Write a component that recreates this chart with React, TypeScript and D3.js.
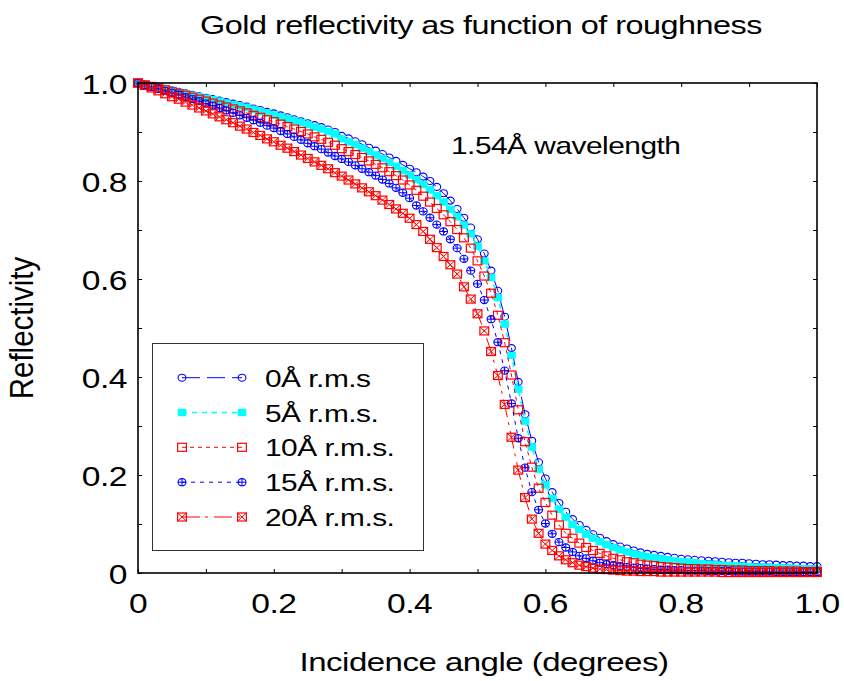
import React, { useEffect, useRef } from 'react';
import * as d3 from 'd3';

// Incidence angles (degrees)
const angles = [
  0.00, 0.01, 0.02, 0.03, 0.04, 0.05, 0.06, 0.07, 0.08, 0.09,
  0.10, 0.11, 0.12, 0.13, 0.14, 0.15, 0.16, 0.17, 0.18, 0.19,
  0.20, 0.21, 0.22, 0.23, 0.24, 0.25, 0.26, 0.27, 0.28, 0.29,
  0.30, 0.31, 0.32, 0.33, 0.34, 0.35, 0.36, 0.37, 0.38, 0.39,
  0.40, 0.41, 0.42, 0.43, 0.44, 0.45, 0.46, 0.47, 0.48, 0.49,
  0.50, 0.51, 0.52, 0.53, 0.54, 0.55, 0.56, 0.57, 0.58, 0.59,
  0.60, 0.61, 0.62, 0.63, 0.64, 0.65, 0.66, 0.67, 0.68, 0.69,
  0.70, 0.71, 0.72, 0.73, 0.74, 0.75, 0.76, 0.77, 0.78, 0.79,
  0.80, 0.81, 0.82, 0.83, 0.84, 0.85, 0.86, 0.87, 0.88, 0.89,
  0.90, 0.91, 0.92, 0.93, 0.94, 0.95, 0.96, 0.97, 0.98, 0.99,
  1.00,
];

const rough0 = [
  1.000, 0.997, 0.994, 0.991, 0.988, 0.985, 0.982, 0.979, 0.976, 0.973,
  0.970, 0.967, 0.964, 0.961, 0.958, 0.955, 0.952, 0.948, 0.945, 0.941,
  0.938, 0.934, 0.930, 0.926, 0.922, 0.918, 0.914, 0.910, 0.905, 0.900,
  0.892, 0.887, 0.881, 0.875, 0.868, 0.862, 0.855, 0.848, 0.841, 0.833,
  0.825, 0.818, 0.809, 0.800, 0.788, 0.775, 0.760, 0.743, 0.725, 0.705,
  0.681, 0.652, 0.617, 0.576, 0.523, 0.459, 0.390, 0.324, 0.270, 0.226,
  0.193, 0.165, 0.143, 0.125, 0.110, 0.098, 0.088, 0.079, 0.072, 0.065,
  0.059, 0.054, 0.050, 0.046, 0.042, 0.039, 0.037, 0.035, 0.033, 0.031,
  0.029, 0.028, 0.027, 0.026, 0.025, 0.024, 0.023, 0.022, 0.021, 0.021,
  0.020, 0.019, 0.018, 0.018, 0.017, 0.016, 0.016, 0.015, 0.015, 0.014,
  0.014,
];

const rough5 = [
  1.000, 0.997, 0.994, 0.991, 0.988, 0.985, 0.981, 0.978, 0.975, 0.972,
  0.969, 0.966, 0.963, 0.959, 0.956, 0.953, 0.950, 0.946, 0.942, 0.939,
  0.935, 0.931, 0.927, 0.923, 0.919, 0.915, 0.910, 0.906, 0.901, 0.896,
  0.886, 0.880, 0.874, 0.867, 0.860, 0.853, 0.846, 0.838, 0.830, 0.821,
  0.812, 0.803, 0.793, 0.782, 0.770, 0.757, 0.742, 0.727, 0.710, 0.692,
  0.667, 0.637, 0.603, 0.562, 0.508, 0.444, 0.375, 0.310, 0.257, 0.212,
  0.180, 0.152, 0.130, 0.114, 0.099, 0.089, 0.079, 0.071, 0.064, 0.058,
  0.052, 0.047, 0.043, 0.039, 0.036, 0.033, 0.031, 0.029, 0.027, 0.025,
  0.023, 0.022, 0.021, 0.019, 0.018, 0.017, 0.016, 0.015, 0.015, 0.014,
  0.013, 0.012, 0.012, 0.011, 0.011, 0.010, 0.010, 0.009, 0.009, 0.008,
  0.008,
];

const rough10 = [
  1.000, 0.996, 0.993, 0.989, 0.986, 0.982, 0.978, 0.975, 0.971, 0.967,
  0.963, 0.959, 0.955, 0.951, 0.947, 0.943, 0.939, 0.934, 0.930, 0.925,
  0.921, 0.916, 0.911, 0.906, 0.901, 0.896, 0.890, 0.885, 0.879, 0.873,
  0.866, 0.860, 0.854, 0.848, 0.841, 0.834, 0.827, 0.819, 0.811, 0.802,
  0.792, 0.781, 0.769, 0.757, 0.744, 0.731, 0.717, 0.701, 0.684, 0.663,
  0.637, 0.606, 0.571, 0.526, 0.470, 0.404, 0.333, 0.268, 0.216, 0.173,
  0.144, 0.118, 0.098, 0.081, 0.071, 0.061, 0.052, 0.046, 0.040, 0.035,
  0.030, 0.027, 0.023, 0.021, 0.018, 0.016, 0.015, 0.013, 0.012, 0.011,
  0.010, 0.009, 0.009, 0.008, 0.008, 0.007, 0.007, 0.006, 0.006, 0.006,
  0.005, 0.005, 0.005, 0.005, 0.004, 0.004, 0.004, 0.004, 0.003, 0.003,
  0.003,
];

const rough15 = [
  1.000, 0.996, 0.992, 0.988, 0.984, 0.980, 0.976, 0.971, 0.967, 0.963,
  0.958, 0.954, 0.949, 0.944, 0.939, 0.934, 0.929, 0.924, 0.919, 0.913,
  0.908, 0.902, 0.896, 0.890, 0.884, 0.877, 0.871, 0.865, 0.858, 0.851,
  0.845, 0.839, 0.832, 0.825, 0.818, 0.811, 0.803, 0.795, 0.786, 0.776,
  0.765, 0.750, 0.738, 0.725, 0.711, 0.697, 0.681, 0.663, 0.641, 0.617,
  0.590, 0.557, 0.518, 0.471, 0.413, 0.346, 0.275, 0.215, 0.165, 0.129,
  0.101, 0.080, 0.063, 0.052, 0.043, 0.035, 0.030, 0.025, 0.021, 0.018,
  0.016, 0.014, 0.012, 0.011, 0.010, 0.009, 0.008, 0.007, 0.007, 0.006,
  0.006, 0.005, 0.005, 0.005, 0.004, 0.004, 0.004, 0.004, 0.003, 0.003,
  0.003, 0.003, 0.003, 0.003, 0.002, 0.002, 0.002, 0.002, 0.002, 0.002,
  0.002,
];

const rough20 = [
  1.000, 0.995, 0.990, 0.984, 0.978, 0.972, 0.967, 0.961, 0.955, 0.949,
  0.943, 0.937, 0.931, 0.925, 0.919, 0.912, 0.906, 0.899, 0.893, 0.886,
  0.880, 0.873, 0.867, 0.860, 0.853, 0.846, 0.839, 0.832, 0.825, 0.817,
  0.810, 0.802, 0.794, 0.786, 0.778, 0.770, 0.761, 0.752, 0.743, 0.734,
  0.724, 0.711, 0.697, 0.681, 0.664, 0.646, 0.629, 0.610, 0.584, 0.559,
  0.529, 0.494, 0.452, 0.403, 0.344, 0.277, 0.210, 0.154, 0.110, 0.081,
  0.059, 0.046, 0.035, 0.027, 0.021, 0.016, 0.013, 0.010, 0.008, 0.007,
  0.006, 0.005, 0.004, 0.004, 0.003, 0.003, 0.003, 0.002, 0.002, 0.002,
  0.002, 0.002, 0.002, 0.002, 0.002, 0.002, 0.001, 0.001, 0.001, 0.001,
  0.001, 0.001, 0.001, 0.001, 0.001, 0.001, 0.001, 0.001, 0.001, 0.001,
  0.001,
];

const seriesNames = ['0Å r.m.s', '5Å r.m.s.', '10Å r.m.s.', '15Å r.m.s.', '20Å r.m.s.'];
const seriesValues = [rough0, rough5, rough10, rough15, rough20];

const xTicks = [0, 0.1, 0.2, 0.3, 0.4, 0.5, 0.6, 0.7, 0.8, 0.9, 1.0];
const yTicks = [0, 0.1, 0.2, 0.3, 0.4, 0.5, 0.6, 0.7, 0.8, 0.9, 1.0];
const xLabelTicks = [0, 0.2, 0.4, 0.6, 0.8, 1.0];
const xTickLabels = ['0', '0.2', '0.4', '0.6', '0.8', '1.0'];
const yLabelTicks = [0, 0.2, 0.4, 0.6, 0.8, 1.0];
const yTickLabels = ['0', '0.2', '0.4', '0.6', '0.8', '1.0'];

const titleText = 'Gold reflectivity as function of roughness';
const xTitle = 'Incidence angle (degrees)';
const yTitle = 'Reflectivity';
const noteText = '1.54Å wavelength';

const styles = [
  { color: '#0000ff', dash: '18,7', marker: 'circle', width: 1 },
  { color: '#00ffff', dash: '5,5', marker: 'filledSquare', width: 1.5 },
  { color: '#ff0000', dash: '4,4', marker: 'square', width: 1 },
  { color: '#0000ff', dash: '4,5', marker: 'circlePlus', width: 1 },
  { color: '#ff0000', dash: '18,5,3,6', marker: 'squareX', width: 1 },
];

const FONT = '"Liberation Sans", Arial, sans-serif';
const SX = 1.245;

function drawMarker(g: any, type: string, color: string, cx: number, cy: number) {
  const hw = 4.4, hh = 4.0;
  if (type === 'circle') {
    g.append('ellipse').attr('cx', cx).attr('cy', cy).attr('rx', 3.9).attr('ry', 3.5)
      .attr('fill', 'none').attr('stroke', color).attr('stroke-width', 1.1);
  } else if (type === 'filledSquare') {
    g.append('rect').attr('x', cx - 4.3).attr('y', cy - 3.7).attr('width', 8.6).attr('height', 7.4)
      .attr('fill', color).attr('stroke', 'none');
  } else if (type === 'square') {
    g.append('rect').attr('x', cx - hw).attr('y', cy - hh).attr('width', 2 * hw).attr('height', 2 * hh)
      .attr('fill', 'none').attr('stroke', color).attr('stroke-width', 1.2);
  } else if (type === 'circlePlus') {
    g.append('ellipse').attr('cx', cx).attr('cy', cy).attr('rx', 4.0).attr('ry', 3.6)
      .attr('fill', 'none').attr('stroke', color).attr('stroke-width', 1.1);
    g.append('path').attr('d', `M${cx - 4},${cy}H${cx + 4}M${cx},${cy - 3.6}V${cy + 3.6}`)
      .attr('stroke', color).attr('stroke-width', 1);
  } else if (type === 'squareX') {
    g.append('rect').attr('x', cx - hw).attr('y', cy - hh).attr('width', 2 * hw).attr('height', 2 * hh)
      .attr('fill', 'none').attr('stroke', color).attr('stroke-width', 1.2);
    g.append('path').attr('d', `M${cx - hw},${cy - hh}L${cx + hw},${cy + hh}M${cx + hw},${cy - hh}L${cx - hw},${cy + hh}`)
      .attr('stroke', color).attr('stroke-width', 1);
  }
}

function stretchText(g: any, x: number, y: number, str: string, size: number, anchor: string) {
  return g.append('text')
    .attr('transform', `translate(${x},${y}) scale(${SX},1)`)
    .attr('text-anchor', anchor)
    .attr('font-family', FONT)
    .attr('font-size', size)
    .attr('letter-spacing', -0.4)
    .attr('fill', '#000')
    .text(str);
}

export default function App() {
  const ref = useRef<SVGSVGElement>(null);

  useEffect(() => {
    const svg = d3.select(ref.current);
    svg.selectAll('*').remove();

    const left = 138, right = 817, top = 83, bottom = 573;
    const x = d3.scaleLinear().domain([0, 1]).range([left, right]);
    const y = d3.scaleLinear().domain([0, 1]).range([bottom, top]);

    svg.append('rect').attr('width', 844).attr('height', 681).attr('fill', '#fff');

    // ticks (inward, all sides)
    const tickStyle = (g: any) => {
      g.select('.domain').remove();
      g.selectAll('line').attr('stroke', '#000').attr('stroke-width', 1);
    };
    svg.append('g').attr('transform', `translate(0,${bottom})`)
      .call(d3.axisBottom(x).tickValues(xTicks).tickSize(-4).tickFormat(() => '')).call(tickStyle);
    svg.append('g').attr('transform', `translate(0,${top})`)
      .call(d3.axisTop(x).tickValues(xTicks).tickSize(-4).tickFormat(() => '')).call(tickStyle);
    svg.append('g').attr('transform', `translate(${left},0)`)
      .call(d3.axisLeft(y).tickValues(yTicks).tickSize(-4).tickFormat(() => '')).call(tickStyle);
    svg.append('g').attr('transform', `translate(${right},0)`)
      .call(d3.axisRight(y).tickValues(yTicks).tickSize(-4).tickFormat(() => '')).call(tickStyle);

    // series
    const line = d3.line<number>().x((_, i) => x(angles[i])).y((d) => y(d));
    seriesValues.forEach((vals, si) => {
      const st = styles[si];
      const g = svg.append('g');
      g.append('path').attr('d', line(vals) as string)
        .attr('fill', 'none').attr('stroke', st.color).attr('stroke-width', st.width)
        .attr('stroke-dasharray', st.dash);
      vals.forEach((v, i) => drawMarker(g, st.marker, st.color, x(angles[i]), y(v)));
    });

    // frame
    svg.append('rect').attr('x', left).attr('y', top).attr('width', right - left).attr('height', bottom - top)
      .attr('fill', 'none').attr('stroke', '#000').attr('stroke-width', 1.6);

    // tick labels
    xLabelTicks.forEach((t, i) => stretchText(svg, x(t), 613, xTickLabels[i], 27, 'middle'));
    yLabelTicks.forEach((t, i) => stretchText(svg, 127, y(t) + 10.5, yTickLabels[i], 27, 'end'));

    // titles
    stretchText(svg, 481, 33.5, titleText, 26, 'middle');
    stretchText(svg, 484, 671, xTitle, 26.5, 'middle');
    svg.append('text')
      .attr('transform', `translate(33,328) rotate(-90) scale(1,1.12)`)
      .attr('text-anchor', 'middle').attr('font-family', FONT).attr('font-size', 29.5)
      .text(yTitle);
    stretchText(svg, 451, 153.5, noteText, 24, 'start');

    // legend
    const lg = svg.append('g');
    lg.append('rect').attr('x', 152.5).attr('y', 343.5).attr('width', 271).attr('height', 207)
      .attr('fill', '#fff').attr('stroke', '#333').attr('stroke-width', 1);
    const rowY = [377.7, 412.5, 447.3, 482.2, 517];
    seriesNames.forEach((name, i) => {
      const st = styles[i];
      const yy = rowY[i];
      lg.append('line').attr('x1', 182).attr('x2', 242).attr('y1', yy).attr('y2', yy)
        .attr('stroke', st.color).attr('stroke-width', st.width).attr('stroke-dasharray', st.dash);
      drawMarker(lg, st.marker, st.color, 182, yy);
      drawMarker(lg, st.marker, st.color, 242, yy);
      stretchText(lg, 265, yy + 9, name, 24, 'start');
    });
  }, []);

  return (
    <svg ref={ref} width={844} height={681}
      style={{ position: 'absolute', left: 0, top: 0, display: 'block' }} />
  );
}
